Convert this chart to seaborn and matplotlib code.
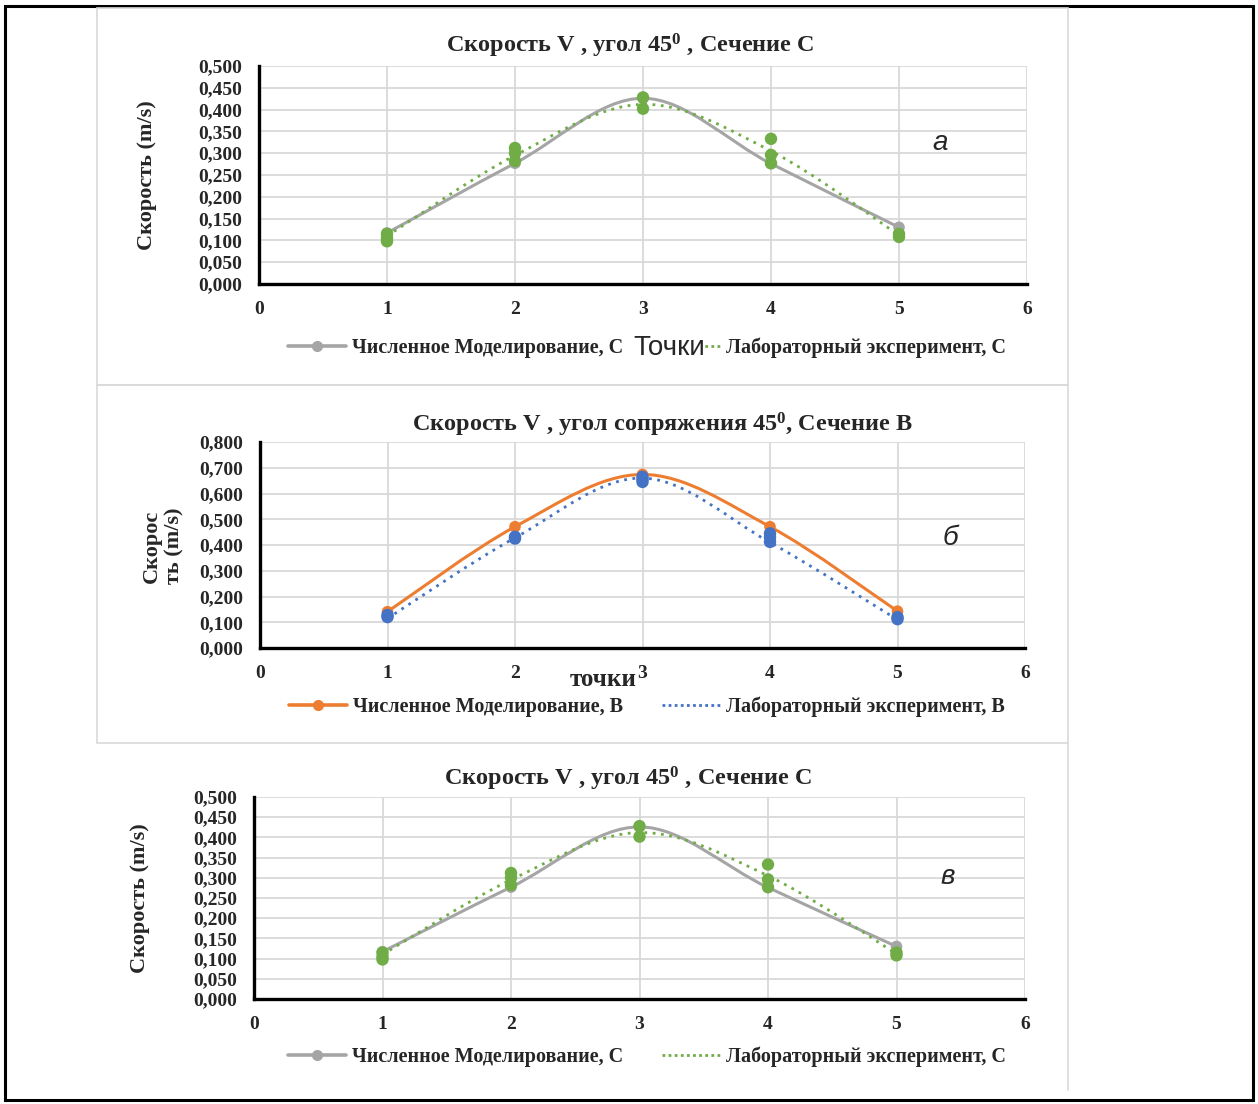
import numpy as np
import pandas as pd
import matplotlib
matplotlib.use("Agg")
import matplotlib.pyplot as plt
from matplotlib.path import Path
from matplotlib.patches import PathPatch, Rectangle
from matplotlib.lines import Line2D
import seaborn as sns

# --- data ------------------------------------------------------------------
points = [1, 2, 3, 4, 5]

# section C (panels a and c show the same chart)
sim_c = [0.117, 0.277, 0.426, 0.276, 0.130]
lab_c = [0.110, 0.295, 0.412, 0.305, 0.112]
lab_c_x = [1, 1, 1, 2, 2, 2, 3, 3, 4, 4, 4, 5, 5]
lab_c_y = [0.115, 0.105, 0.098, 0.312, 0.300, 0.282, 0.428, 0.402,
           0.333, 0.296, 0.277, 0.115, 0.108]

# section B
sim_b = [0.141, 0.471, 0.674, 0.471, 0.143]
lab_b = [0.115, 0.428, 0.660, 0.410, 0.110]
lab_b_x = [1, 1, 2, 2, 3, 3, 3, 4, 4, 4, 5, 5]
lab_b_y = [0.128, 0.120, 0.432, 0.425, 0.665, 0.655, 0.645,
           0.445, 0.430, 0.412, 0.120, 0.112]

xticks = [0, 1, 2, 3, 4, 5, 6]

GRAY = "#A5A5A5"
GREEN = "#70AD47"
ORANGE = "#ED7D31"
BLUE = "#4472C4"
GRID = "#D9D9D9"

SERIF = ["Liberation Serif", "DejaVu Serif"]
SANS = ["Liberation Sans", "DejaVu Sans"]

sns.set_theme(style="white")
plt.rcParams["font.family"] = SERIF
plt.rcParams["font.weight"] = "bold"
plt.rcParams["mathtext.fontset"] = "custom"
plt.rcParams["mathtext.rm"] = "Liberation Serif:bold"
plt.rcParams["mathtext.it"] = "Liberation Serif:bold"

W, H = 1258, 1104
fig = plt.figure(figsize=(W / 100, H / 100), dpi=100)


def px_axes(left, top, right, bottom):
    return fig.add_axes([left / W, 1 - bottom / H, (right - left) / W, (bottom - top) / H])


def smooth_line(ax, xs, ys, **kw):
    # Excel-like "smoothed line": cubic Bezier through the data points
    pts = np.column_stack([xs, ys]).astype(float)
    n = len(pts)
    verts = [pts[0]]
    codes = [Path.MOVETO]
    for i in range(n - 1):
        p0 = pts[i - 1] if i > 0 else pts[i]
        p1, p2 = pts[i], pts[i + 1]
        p3 = pts[i + 2] if i + 2 < n else pts[i + 1]
        verts += [p1 + (p2 - p0) / 6, p2 - (p3 - p1) / 6, p2]
        codes += [Path.CURVE4] * 3
    ax.add_patch(PathPatch(Path(verts, codes), fill=False, transform=ax.transData, **kw))


def style_axes(ax, ymax, ystep):
    ax.set_xlim(0, 6)
    ax.set_ylim(0, ymax)
    ax.set_xticks(xticks)
    yt = np.round(np.arange(0, ymax + ystep / 2, ystep), 3)
    ax.set_yticks(yt)
    ax.set_yticklabels([f"{v:.3f}".replace(".", ",") for v in yt])
    ax.grid(True, color=GRID, linewidth=1.3)
    ax.set_axisbelow(True)
    for s in ["top", "right"]:
        ax.spines[s].set_visible(False)
    for s in ["left", "bottom"]:
        ax.spines[s].set_color("black")
        ax.spines[s].set_linewidth(2.4)
    ax.tick_params(axis="both", labelsize=14, length=0)
    ax.tick_params(axis="x", pad=12)
    ax.tick_params(axis="y", pad=12)
    for lab in ax.get_xticklabels() + ax.get_yticklabels():
        lab.set_fontweight("bold")
    ax.set_xlabel("")
    ax.set_ylabel("")


def draw_panel(ax, sim, lab, lx, ly, sim_color, lab_color):
    smooth_line(ax, points, sim, color=sim_color, linewidth=2.2, zorder=3)
    smooth_line(ax, points, lab, color=lab_color, linewidth=2.0,
                linestyle=(0, (1, 2)), zorder=4)
    sns.scatterplot(x=points, y=sim, ax=ax, color=sim_color, s=70,
                    edgecolor="none", legend=False, zorder=5)
    sns.scatterplot(x=lx, y=ly, ax=ax, color=lab_color, s=80,
                    edgecolor="none", legend=False, zorder=6)


def add_legend(ax, sim_color, lab_color, sim_label, lab_label, y):
    handles = [
        Line2D([], [], color=sim_color, linewidth=2.6, marker="o", markersize=7),
        Line2D([], [], color=lab_color, linewidth=2.0, linestyle=(0, (1, 1.2))),
    ]
    ax.legend(handles, [sim_label, lab_label], loc="center",
              bbox_to_anchor=(647 / W, 1 - y / H), bbox_transform=fig.transFigure,
              ncol=2, frameon=False, handlelength=2.9, columnspacing=1.9,
              handletextpad=0.3, prop={"family": SERIF, "weight": "bold", "size": 14.5})


# --- outer frame and chart borders -----------------------------------------
fig.patches.append(Rectangle((5 / W, 1 - 1100 / H), 1248 / W, 1094 / H, transform=fig.transFigure,
                             fill=False, edgecolor="black", linewidth=2.2))
fig.patches.append(Rectangle((97 / W, 1 - 385 / H), 971 / W, 377 / H, transform=fig.transFigure,
                             fill=False, edgecolor="#D9D9D9", linewidth=1.2))
fig.patches.append(Rectangle((97 / W, 1 - 743 / H), 971 / W, 358 / H, transform=fig.transFigure,
                             fill=False, edgecolor="#D9D9D9", linewidth=1.2))
fig.lines.append(Line2D([1068 / W, 1068 / W], [1 - 743 / H, 1 - 1090 / H],
                        transform=fig.transFigure, color="#D9D9D9", linewidth=1.2))

title_c = r"Скорость V , угол 45$^0$ , Сечение C"
title_b = r"Скорость V , угол сопряжения 45$^0$, Сечение B"

# --- panel a ----------------------------------------------------------------
ax1 = px_axes(259, 66, 1027, 284)
draw_panel(ax1, sim_c, lab_c, lab_c_x, lab_c_y, GRAY, GREEN)
style_axes(ax1, 0.5, 0.05)
fig.text(630 / W, 1 - 46 / H, title_c, ha="center", va="center",
         fontsize=17.5, fontweight="bold", family=SERIF)
fig.text(147 / W, 1 - 175 / H, "Скорость (m/s)", rotation=90, ha="center", va="center",
         fontsize=16, fontweight="bold", family=SERIF)
add_legend(ax1, GRAY, GREEN, "Численное Моделирование, C", "Лабораторный эксперимент, C", 348)
fig.text(669 / W, 1 - 348 / H, "Точки", ha="center", va="center", fontsize=20,
         fontweight="normal", family=SANS, zorder=10,
         bbox=dict(facecolor="white", edgecolor="none", pad=0))
fig.text(940 / W, 1 - 143 / H, "а", ha="center", va="center", fontsize=20,
         style="italic", fontweight="normal", family=SANS)

# --- panel b ----------------------------------------------------------------
ax2 = px_axes(260, 442, 1025, 648)
draw_panel(ax2, sim_b, lab_b, lab_b_x, lab_b_y, ORANGE, BLUE)
style_axes(ax2, 0.8, 0.1)
fig.text(662 / W, 1 - 425 / H, title_b, ha="center",
         va="center", fontsize=17.5, fontweight="bold", family=SERIF)
fig.text(163 / W, 1 - 546 / H, "Скорос\nть (m/s)", rotation=90, ha="center", va="center",
         fontsize=16, fontweight="bold", family=SERIF, linespacing=1.2)
fig.text(603 / W, 1 - 680 / H, "точки", ha="center", va="center", fontsize=18,
         fontweight="bold", family=SERIF)
add_legend(ax2, ORANGE, BLUE, "Численное Моделирование, B", "Лабораторный эксперимент, B", 707)
fig.text(950 / W, 1 - 538 / H, "б", ha="center", va="center", fontsize=20,
         style="italic", fontweight="normal", family=SANS)

# --- panel c ----------------------------------------------------------------
ax3 = px_axes(254, 797, 1025, 999)
draw_panel(ax3, sim_c, lab_c, lab_c_x, lab_c_y, GRAY, GREEN)
style_axes(ax3, 0.5, 0.05)
fig.text(628 / W, 1 - 779 / H, title_c, ha="center", va="center",
         fontsize=17.5, fontweight="bold", family=SERIF)
fig.text(140 / W, 1 - 898 / H, "Скорость (m/s)", rotation=90, ha="center", va="center",
         fontsize=16, fontweight="bold", family=SERIF)
add_legend(ax3, GRAY, GREEN, "Численное Моделирование, C", "Лабораторный эксперимент, C", 1057)
fig.text(948 / W, 1 - 877 / H, "в", ha="center", va="center", fontsize=20,
         style="italic", fontweight="normal", family=SANS)

fig.savefig("out.png", dpi=100)
